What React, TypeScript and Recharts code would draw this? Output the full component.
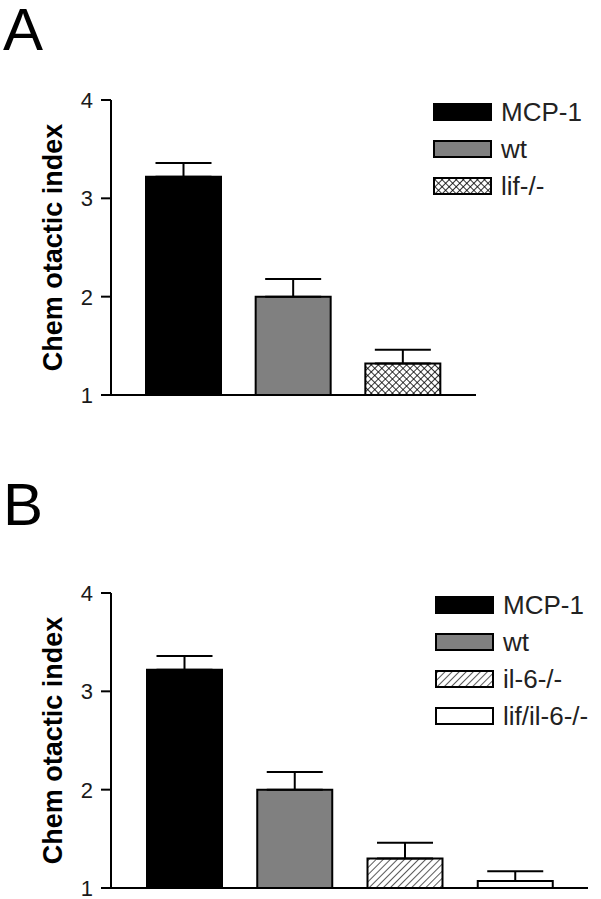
import React from "react";
import { BarChart, Bar, Cell, XAxis, YAxis, ErrorBar } from "recharts";

// panel A
const categoriesA = ["MCP-1", "wt", "lif-/-"];
const valuesA = [3.22, 2.0, 1.32];
const errorsA = [0.14, 0.18, 0.14];

// panel B
const categoriesB = ["MCP-1", "wt", "il-6-/-", "lif/il-6-/-"];
const valuesB = [3.22, 2.0, 1.3, 1.07];
const errorsB = [0.14, 0.18, 0.16, 0.1];

const yTicks = [1, 2, 3, 4];
const yLabel = "Chem otactic index";

const FILLS: Record<string, string> = {
  "MCP-1": "#000000",
  wt: "#808080",
  "lif-/-": "url(#crosshatch)",
  "il-6-/-": "url(#diaghatch)",
  "lif/il-6-/-": "#ffffff",
};

const FONT = "Arial, 'Liberation Sans', sans-serif";

const Patterns = () => (
  <svg width={0} height={0} style={{ position: "absolute" }}>
    <defs>
      <pattern id="crosshatch" width={5} height={5} patternUnits="userSpaceOnUse" patternTransform="rotate(45)">
        <rect width={5} height={5} fill="#fff" />
        <line x1={0} y1={0} x2={0} y2={5} stroke="#000" strokeWidth={1.6} />
        <line x1={0} y1={0} x2={5} y2={0} stroke="#000" strokeWidth={1.6} />
      </pattern>
      <pattern id="diaghatch" width={5} height={5} patternUnits="userSpaceOnUse" patternTransform="rotate(45)">
        <rect width={5} height={5} fill="#fff" />
        <line x1={0} y1={0} x2={0} y2={5} stroke="#000" strokeWidth={1.3} />
      </pattern>
    </defs>
  </svg>
);

type PanelProps = {
  categories: string[];
  values: number[];
  errors: number[];
  top: number;
  height: number;
  marginTop: number;
  marginBottom: number;
  marginRight: number;
};

const YLabel = ({ viewBox }: any) => {
  const cy = viewBox.y + viewBox.height / 2;
  return (
    <text
      x={62}
      y={cy}
      transform={`rotate(-90, 62, ${cy})`}
      textAnchor="middle"
      fontSize={27}
      fontWeight="bold"
      fontFamily={FONT}
      fill="#000"
    >
      {yLabel}
    </text>
  );
};

const YTick = ({ x, y, payload }: any) => (
  <text x={x} y={y} dy={8} textAnchor="end" fontFamily={FONT} fill="#1a1a1a" style={{ fontSize: "22px" }}>
    {payload.value}
  </text>
);

const Panel = ({ categories, values, errors, top, height, marginTop, marginBottom, marginRight }: PanelProps) => {
  const data = categories.map((name, i) => ({ name, value: values[i], err: [0, errors[i]] }));
  return (
    <div style={{ position: "absolute", left: 0, top }}>
      <BarChart
        width={601}
        height={height}
        data={data}
        margin={{ top: marginTop, right: marginRight, bottom: marginBottom, left: 51 }}
        style={{ fontFamily: FONT }}
      >
        <XAxis
          dataKey="name"
          tick={false}
          tickLine={false}
          height={1}
          padding={{ left: 18, right: 18 }}
          axisLine={{ stroke: "#000", strokeWidth: 2 }}
        />
        <YAxis
          type="number"
          domain={[1, 4]}
          ticks={yTicks}
          interval={0}
          allowDataOverflow
          width={60}
          tickSize={10}
          tickMargin={8}
          tick={<YTick />}
          tickLine={{ stroke: "#000", strokeWidth: 2 }}
          axisLine={{ stroke: "#000", strokeWidth: 2 }}
          label={<YLabel />}
        />
        <Bar dataKey="value" barSize={75} stroke="#000" strokeWidth={2} isAnimationActive={false}>
          {data.map((d) => (
            <Cell key={d.name} fill={FILLS[d.name]} />
          ))}
          <ErrorBar dataKey="err" direction="y" width={28} stroke="#000" strokeWidth={2} isAnimationActive={false} />
        </Bar>
      </BarChart>
    </div>
  );
};

const LegendBox = ({ items, left, top }: { items: string[]; left: number; top: number }) => (
  <div style={{ position: "absolute", left, top, fontFamily: FONT }}>
    {items.map((name) => (
      <div key={name} style={{ display: "flex", alignItems: "center", height: 37 }}>
        <div
          style={{
            width: 59,
            height: 18,
            boxSizing: "border-box",
            border: "2px solid #000",
            background: FILLS[name].startsWith("url") ? undefined : FILLS[name],
            position: "relative",
          }}
        >
          {FILLS[name].startsWith("url") && (
            <svg width={55} height={14} style={{ position: "absolute", left: 0, top: 0 }}>
              <rect width={55} height={14} fill={FILLS[name]} />
            </svg>
          )}
        </div>
        <span style={{ fontSize: 26, color: "#222", marginLeft: 9, lineHeight: "26px" }}>{name}</span>
      </div>
    ))}
  </div>
);

export default function App() {
  return (
    <div style={{ position: "absolute", left: 0, top: 0, width: 601, height: 899, background: "#fff" }}>
      <Patterns />
      <svg width={80} height={899} style={{ position: "absolute", left: 0, top: 0 }}>
        <text x={3} y={50} fontSize={60} fontFamily={FONT} fill="#000">A</text>
        <text x={3} y={525} fontSize={60} fontFamily={FONT} fill="#000">B</text>
      </svg>
      <Panel
        categories={categoriesA}
        values={valuesA}
        errors={errorsA}
        top={0}
        height={450}
        marginTop={100}
        marginBottom={54}
        marginRight={125}
      />
      <Panel
        categories={categoriesB}
        values={valuesB}
        errors={errorsB}
        top={450}
        height={449}
        marginTop={143}
        marginBottom={10}
        marginRight={13}
      />
      <LegendBox items={categoriesA} left={433} top={93} />
      <LegendBox items={categoriesB} left={435} top={586} />
    </div>
  );
}
